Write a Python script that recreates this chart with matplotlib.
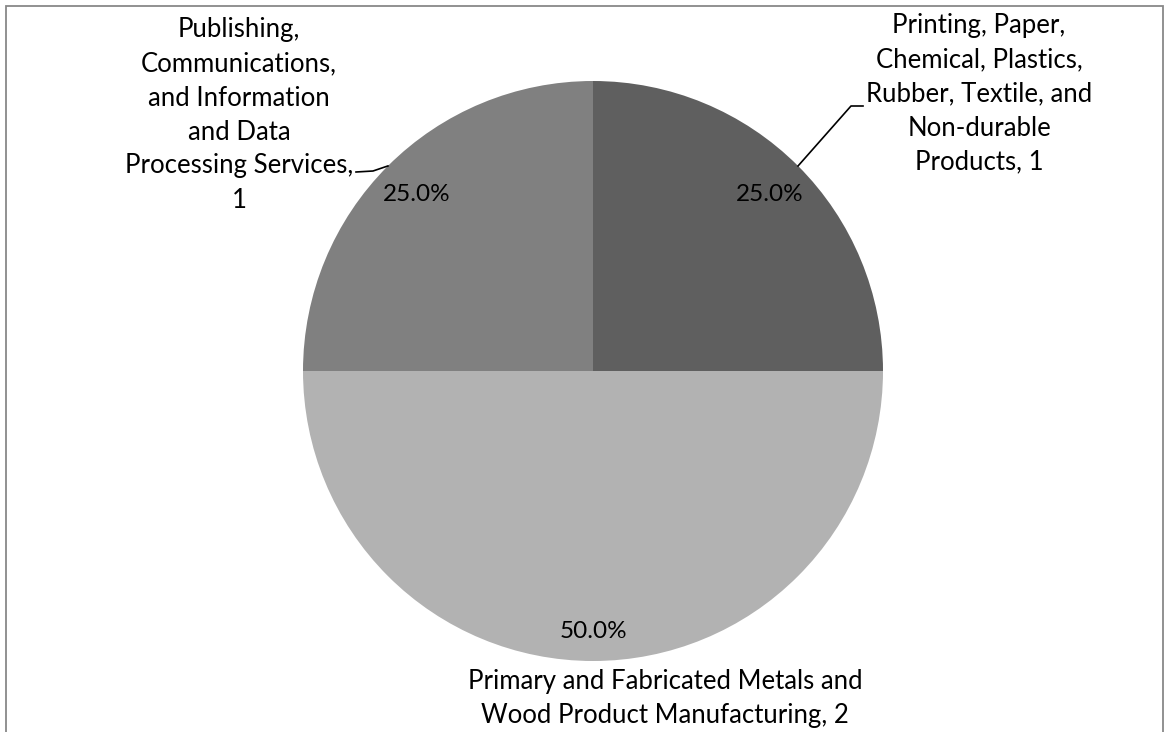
import numpy as np
import matplotlib
matplotlib.use("Agg")
import matplotlib.pyplot as plt
from matplotlib.patches import Rectangle

# data (clockwise from 12 o'clock)
labels = [
    "Printing, Paper,\nChemical, Plastics,\nRubber, Textile, and\nNon-durable\nProducts, 1",
    "Primary and Fabricated Metals and\nWood Product Manufacturing, 2",
    "Publishing,\nCommunications,\nand Information\nand Data\nProcessing Services,\n1",
]
values = [1, 2, 1]
colors = ["#5f5f5f", "#b2b2b2", "#808080"]

W, H = 1168, 732
CX, CY, R = 593, 371, 290   # pie centre / radius in pixels


def px(x, y):
    # image pixel (from top-left) -> data coords, pie radius = 1
    return (x - CX) / R, (CY - y) / R


plt.rcParams['font.family'] = ['Lato', 'DejaVu Sans']
fig = plt.figure(figsize=(W / 100, H / 100), dpi=100)
ax = fig.add_axes([0, 0, 1, 1])

wedges, texts, autotexts = ax.pie(
    values, colors=colors, startangle=90, counterclock=False,
    autopct='%1.1f%%', pctdistance=0.87, radius=1,
    wedgeprops=dict(linewidth=0),
    textprops=dict(fontsize=17.5, color='black'))

ax.set_xlim(-CX / R, (W - CX) / R)
ax.set_ylim(-(H - CY) / R, CY / R)
ax.set_aspect('auto')
ax.axis('off')

# nudge percentages a bit like the original
pct_r = [0.86, 0.90, 0.86]
for w, t, r in zip(wedges, autotexts, pct_r):
    ang = np.deg2rad((w.theta1 + w.theta2) / 2)
    t.set_position((r * np.cos(ang), r * np.sin(ang)))

# category labels
label_pos = [(979, 94), (665, 699), (239, 115)]
for lab, (x, y) in zip(labels, label_pos):
    ax.text(*px(x, y), lab, ha='center', va='center', fontsize=18.5,
            linespacing=1.45)

# leader lines to the wedge mid-points
leaders = {0: [(863, 106), (851, 106)], 2: [(356, 172), (373, 171)]}
for i, pts in leaders.items():
    w = wedges[i]
    ang = np.deg2rad((w.theta1 + w.theta2) / 2)
    xs = [px(*p)[0] for p in pts] + [np.cos(ang)]
    ys = [px(*p)[1] for p in pts] + [np.sin(ang)]
    ax.plot(xs, ys, color='black', lw=1.2)

# chart area border (cut at the bottom like the original)
fig.add_artist(Rectangle((6 / W, -0.05), 1157 / W, (H - 6) / H + 0.05,
                         transform=fig.transFigure, fill=False,
                         ec='#888888', lw=1.3))

fig.savefig('out.png', dpi=100)
